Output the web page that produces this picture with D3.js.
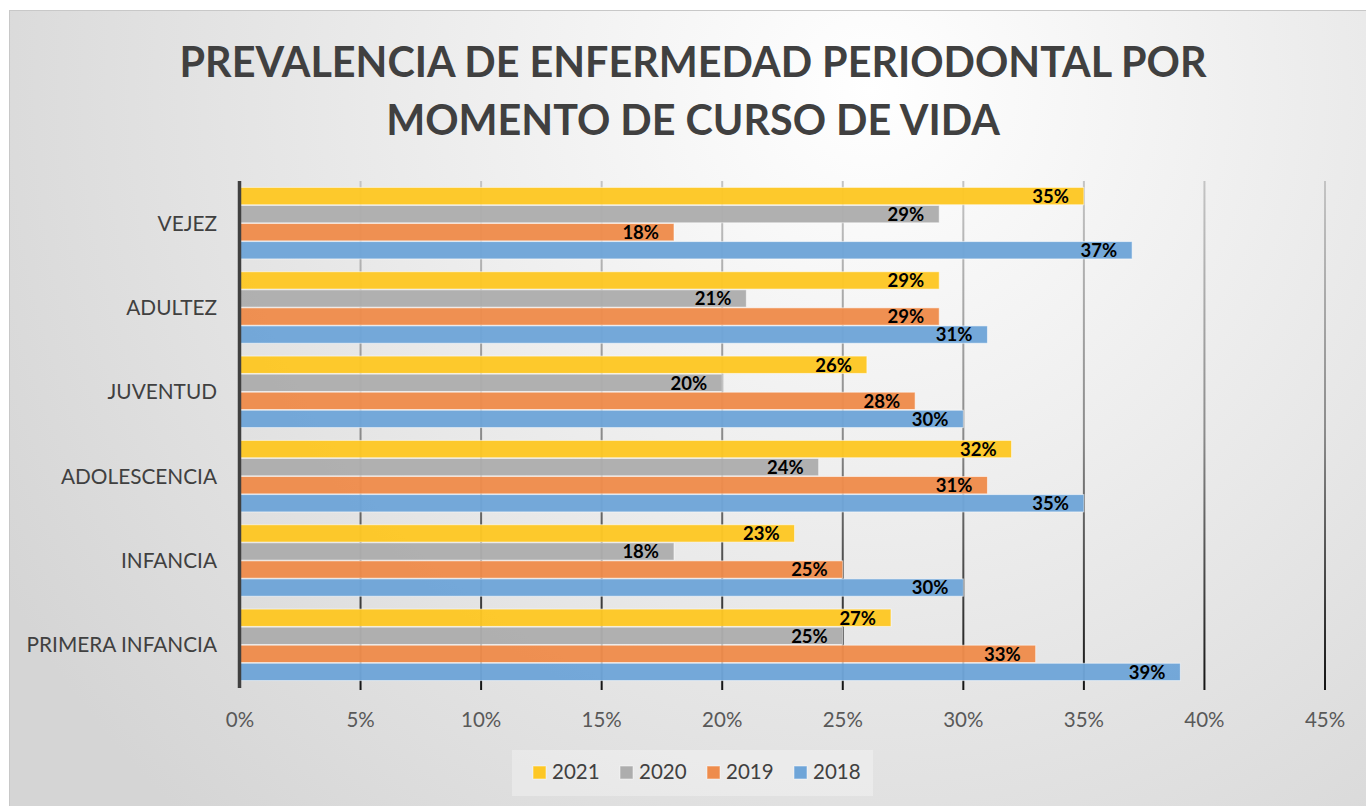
<!DOCTYPE html>
<html>
<head>
<meta charset="utf-8">
<script src="https://cdn.jsdelivr.net/npm/d3@7"></script>
<style>
  html, body { margin: 0; padding: 0; background: #fff; }
  svg { display: block; }
</style>
</head>
<body>
<svg id="chart" width="1366" height="806"></svg>
<script>
// categories top to bottom
var categories = ["VEJEZ", "ADULTEZ", "JUVENTUD", "ADOLESCENCIA", "INFANCIA", "PRIMERA INFANCIA"];
var seriesNames = ["2021", "2020", "2019", "2018"];
var v2021 = [35, 29, 26, 32, 23, 27];
var v2020 = [29, 21, 20, 24, 18, 25];
var v2019 = [18, 29, 28, 31, 25, 33];
var v2018 = [37, 31, 30, 35, 30, 39];
var tickValues = [0, 5, 10, 15, 20, 25, 30, 35, 40, 45];
var colors = ["#fdc725", "#adadad", "#ee8c4c", "#6fa5d8"];

var seriesValues = [v2021, v2020, v2019, v2018];
var FONT = "Lato, 'Open Sans', sans-serif";

var svg = d3.select("#chart");
var defs = svg.append("defs");

// background
var bg = defs.append("radialGradient").attr("id", "bg")
	.attr("gradientUnits", "userSpaceOnUse")
	.attr("cx", 870).attr("cy", 90).attr("r", 1000);
bg.append("stop").attr("offset", 0).attr("stop-color", "#ffffff");
bg.append("stop").attr("offset", 1).attr("stop-color", "#d5d5d5");

var gridGrad = defs.append("linearGradient").attr("id", "grid")
	.attr("gradientUnits", "userSpaceOnUse")
	.attr("x1", 0).attr("y1", 181).attr("x2", 0).attr("y2", 690);
gridGrad.append("stop").attr("offset", 0).attr("stop-color", "#c4c4c4");
gridGrad.append("stop").attr("offset", 0.5).attr("stop-color", "#8a8a8a");
gridGrad.append("stop").attr("offset", 1).attr("stop-color", "#141414");

svg.append("rect")
	.attr("x", 9.5).attr("y", 10.5)
	.attr("width", 1366).attr("height", 806)
	.attr("fill", "url(#bg)")
	.attr("stroke", "#c8c8c8");

// title
var title = svg.append("text")
	.attr("text-anchor", "middle")
	.style("font-family", FONT)
	.style("font-weight", "bold")
	.style("font-size", "41.3px")
	.style("fill", "#404040");
title.append("tspan").attr("x", 693).attr("y", 77).text("PREVALENCIA DE ENFERMEDAD PERIODONTAL POR");
title.append("tspan").attr("x", 693).attr("y", 135).text("MOMENTO DE CURSO DE VIDA");

// scales
var x = d3.scaleLinear().domain([0, 45]).range([240, 1325]);
var y0 = d3.scaleBand().domain(categories).range([181, 687])
	.paddingInner(0.135).paddingOuter(0.0675);
var y1 = d3.scaleBand().domain(seriesNames).range([0, y0.bandwidth()]).padding(0.04);

// gridlines
svg.append("g").selectAll("line")
	.data(tickValues.slice(1))
	.enter()
	.append("line")
	.attr("x1", function(d) { return x(d); })
	.attr("x2", function(d) { return x(d); })
	.attr("y1", 181)
	.attr("y2", 690)
	.attr("stroke", "url(#grid)")
	.attr("stroke-width", 2);

// bars
var rows = [];
categories.forEach(function(c, i) {
	seriesNames.forEach(function(s, j) {
		rows.push({ cat: c, series: s, value: seriesValues[j][i], color: colors[j] });
	});
});

svg.append("g").selectAll("rect")
	.data(rows)
	.enter()
	.append("rect")
	.attr("x", x(0))
	.attr("y", function(d) { return y0(d.cat) + y1(d.series); })
	.attr("width", function(d) { return x(d.value) - x(0); })
	.attr("height", y1.bandwidth())
	.attr("fill", function(d) { return d.color; })
	.attr("fill-opacity", 0.97)
	.attr("stroke", "rgba(255,255,255,0.55)")
	.attr("stroke-width", 1);

svg.append("g").selectAll("text")
	.data(rows)
	.enter()
	.append("text")
	.attr("x", function(d) { return x(d.value) - 15; })
	.attr("y", function(d) { return y0(d.cat) + y1(d.series) + y1.bandwidth() / 2; })
	.attr("dy", "0.37em")
	.attr("text-anchor", "end")
	.style("font-family", FONT)
	.style("font-weight", "bold")
	.style("font-size", "18.5px")
	.style("fill", "#000")
	.text(function(d) { return d.value + "%"; });

// value axis line at 0
svg.append("line")
	.attr("x1", x(0) - 0.5).attr("x2", x(0) - 0.5)
	.attr("y1", 181).attr("y2", 688)
	.attr("stroke", "#404040")
	.attr("stroke-width", 3.5);

// category labels
svg.append("g").selectAll("text")
	.data(categories)
	.enter()
	.append("text")
	.attr("x", 217)
	.attr("y", function(d) { return y0(d) + y0.bandwidth() / 2; })
	.attr("dy", "0.36em")
	.attr("text-anchor", "end")
	.style("font-family", FONT)
	.style("font-size", "20.8px")
	.style("fill", "#404040")
	.text(function(d) { return d; });

// tick labels
svg.append("g").selectAll("text")
	.data(tickValues)
	.enter()
	.append("text")
	.attr("x", function(d) { return x(d); })
	.attr("y", 727)
	.attr("text-anchor", "middle")
	.style("font-family", FONT)
	.style("font-size", "20.5px")
	.style("fill", "#595959")
	.text(function(d) { return d + "%"; });

// legend
svg.append("rect")
	.attr("x", 512).attr("y", 750)
	.attr("width", 361).attr("height", 46)
	.attr("fill", "rgba(255,255,255,0.3)");

var legend = svg.append("g").selectAll("g")
	.data(seriesNames)
	.enter()
	.append("g")
	.attr("transform", function(d, i) { return "translate(" + (533 + i * 87) + ",766)"; });

legend.append("rect")
	.attr("width", 13).attr("height", 13)
	.attr("fill", function(d, i) { return colors[i]; })
	.attr("stroke", "rgba(255,255,255,0.5)");

legend.append("text")
	.attr("x", 19).attr("y", 13)
	.style("font-family", FONT)
	.style("font-size", "20.5px")
	.style("fill", "#404040")
	.text(function(d) { return d; });
</script>
</body>
</html>
